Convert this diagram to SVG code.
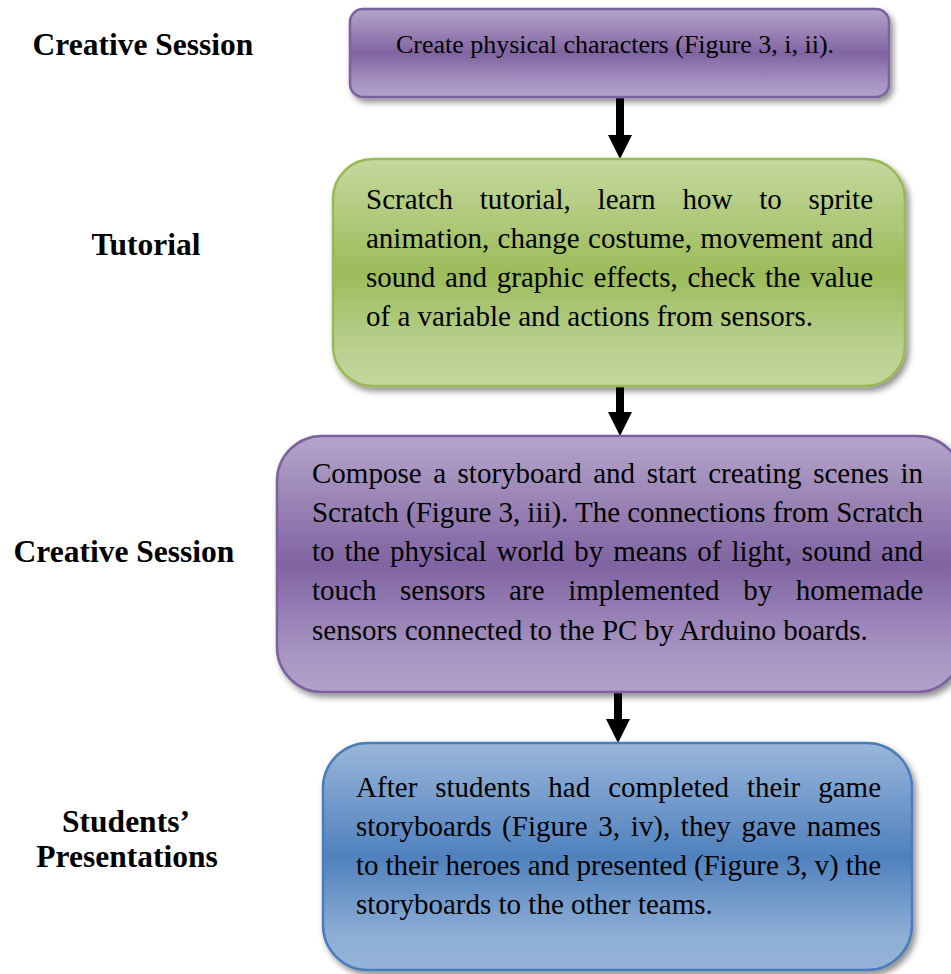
<svg xmlns="http://www.w3.org/2000/svg" width="951" height="974" viewBox="0 0 951 974">
<defs>
<linearGradient id="gPurple" x1="0" y1="0" x2="0" y2="1">
<stop offset="0" stop-color="#b5a5ca"/>
<stop offset="0.5" stop-color="#8064a2"/>
<stop offset="0.85" stop-color="#a895c3"/>
<stop offset="1" stop-color="#b1a1c9"/>
</linearGradient>
<linearGradient id="gGreen" x1="0" y1="0" x2="0" y2="1">
<stop offset="0" stop-color="#c5d89f"/>
<stop offset="0.5" stop-color="#9cbc5a"/>
<stop offset="0.85" stop-color="#bad192"/>
<stop offset="1" stop-color="#c3d69b"/>
</linearGradient>
<linearGradient id="gBlue" x1="0" y1="0" x2="0" y2="1">
<stop offset="0" stop-color="#9ab6da"/>
<stop offset="0.5" stop-color="#4f81bd"/>
<stop offset="0.85" stop-color="#8eaed5"/>
<stop offset="1" stop-color="#96b3d8"/>
</linearGradient>
<filter id="shadow" x="-10%" y="-10%" width="125%" height="130%">
<feDropShadow dx="3" dy="4" stdDeviation="3" flood-color="#000" flood-opacity="0.45"/>
</filter>
<marker id="head" markerUnits="userSpaceOnUse" markerWidth="24" markerHeight="25" refX="0" refY="12" orient="auto">
<path d="M0,0 L24,12 L0,24 Z" fill="#000"/>
</marker>
</defs>
<style>
.label{font-family:"Liberation Serif","Times New Roman",serif;font-weight:bold;font-size:31.5px;fill:#000;text-anchor:middle}
.body{font-family:"Liberation Serif","Times New Roman",serif;font-size:29px;fill:#000}
.purple{fill:url(#gPurple);stroke:#7d60a0;stroke-width:2.5;filter:url(#shadow)}
.green{fill:url(#gGreen);stroke:#98b954;stroke-width:2.5;filter:url(#shadow)}
.blue{fill:url(#gBlue);stroke:#4a7ebb;stroke-width:2.5;filter:url(#shadow)}
.conn{stroke:#000;stroke-width:8;fill:none}
</style>
<rect width="951" height="974" fill="#fff"/>

<g id="labels">
<text class="label" x="143" y="55">Creative Session</text>
<text class="label" x="146" y="255">Tutorial</text>
<text class="label" x="124" y="562">Creative Session</text>
<text class="label" x="126" y="832">Students’</text>
<text class="label" x="127" y="867">Presentations</text>
</g>

<g id="connectors">
<line class="conn" x1="620" y1="97" x2="620" y2="135" marker-end="url(#head)"/>
<line class="conn" x1="620" y1="386" x2="620" y2="412" marker-end="url(#head)"/>
<line class="conn" x1="618" y1="692" x2="618" y2="719" marker-end="url(#head)"/>
</g>

<g id="node1">
<rect class="purple" x="350" y="9" width="539" height="88" rx="13"/>
<text class="body" x="615" y="53" text-anchor="middle" style="font-size:26px">Create physical characters (Figure 3, i, ii).</text>
</g>

<g id="node2">
<rect class="green" x="333" y="159" width="572" height="227" rx="40"/>
<text class="body">
<tspan x="366" y="209" word-spacing="19.6" textLength="507">Scratch tutorial, learn how to sprite</tspan>
<tspan x="366" y="248" word-spacing="1.1" textLength="507">animation, change costume, movement and</tspan>
<tspan x="366" y="287" word-spacing="2.5" textLength="507">sound and graphic effects, check the value</tspan>
<tspan x="366" y="326">of a variable and actions from sensors.</tspan>
</text>
</g>

<g id="node3">
<rect class="purple" x="277" y="436" width="685" height="256" rx="45"/>
<text class="body">
<tspan x="312" y="483" word-spacing="4.3" textLength="611">Compose a storyboard and start creating scenes in</tspan>
<tspan x="312" y="522" textLength="611">Scratch (Figure 3, iii). The connections from Scratch</tspan>
<tspan x="312" y="561" word-spacing="2.7" textLength="611">to the physical world by means of light, sound and</tspan>
<tspan x="312" y="600" word-spacing="16.4" textLength="611">touch sensors are implemented by homemade</tspan>
<tspan x="312" y="640">sensors connected to the PC by Arduino boards.</tspan>
</text>
</g>

<g id="node4">
<rect class="blue" x="323" y="743" width="589" height="227" rx="45"/>
<text class="body">
<tspan x="356" y="797" word-spacing="10.6" textLength="525">After students had completed their game</tspan>
<tspan x="356" y="836" word-spacing="3.4" textLength="525">storyboards (Figure 3, iv), they gave names</tspan>
<tspan x="356" y="875" textLength="525">to their heroes and presented (Figure 3, v) the</tspan>
<tspan x="356" y="914">storyboards to the other teams.</tspan>
</text>
</g>
</svg>
